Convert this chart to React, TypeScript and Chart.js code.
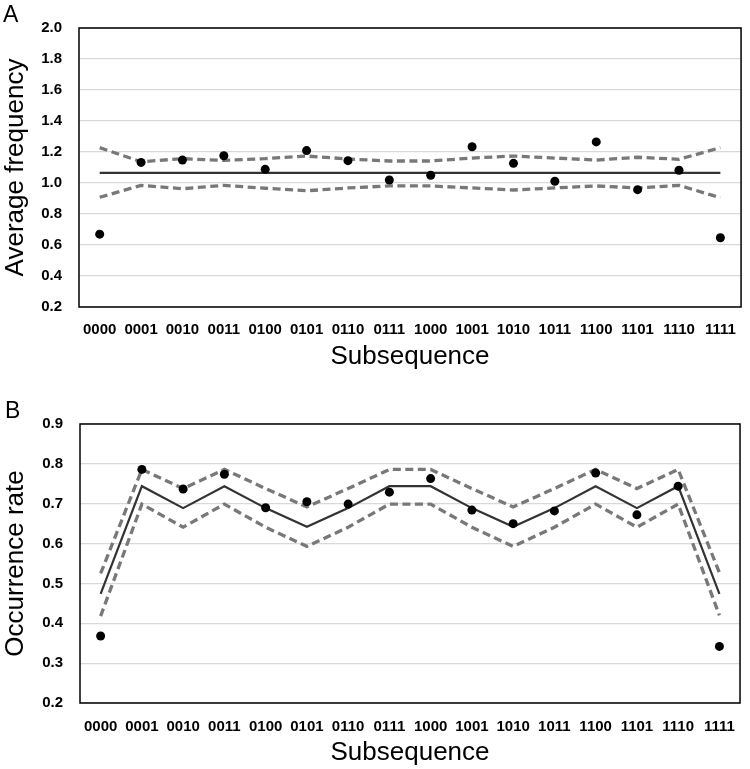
import React, { useEffect, useRef } from "react";
import { Chart, registerables } from "chart.js";

Chart.register(...registerables);

const categories = ["0000","0001","0010","0011","0100","0101","0110","0111","1000","1001","1010","1011","1100","1101","1110","1111"];

// Panel A: average frequency
const freqObserved = [0.67,1.133,1.148,1.176,1.088,1.209,1.144,1.019,1.05,1.234,1.127,1.011,1.265,0.957,1.082,0.647];
const freqMean = [1.065,1.065,1.065,1.065,1.065,1.065,1.065,1.065,1.065,1.065,1.065,1.065,1.065,1.065,1.065,1.065];
const freqUpper = [1.228,1.137,1.157,1.146,1.157,1.174,1.155,1.142,1.142,1.161,1.174,1.161,1.148,1.166,1.153,1.228];
const freqLower = [0.908,0.985,0.963,0.985,0.966,0.95,0.968,0.981,0.981,0.968,0.955,0.968,0.981,0.968,0.985,0.905];
const freqTicks = { min: 0.2, max: 2.0, step: 0.2 };

// Panel B: occurrence rate
const rateObserved = [0.368,0.786,0.737,0.774,0.69,0.705,0.699,0.729,0.763,0.684,0.65,0.682,0.777,0.672,0.744,0.342];
const rateMean = [0.474,0.744,0.689,0.744,0.689,0.642,0.689,0.744,0.744,0.689,0.642,0.689,0.744,0.689,0.744,0.474];
const rateUpper = [0.525,0.786,0.738,0.786,0.738,0.692,0.738,0.786,0.786,0.738,0.692,0.738,0.786,0.738,0.786,0.527];
const rateLower = [0.418,0.699,0.641,0.699,0.641,0.593,0.641,0.699,0.699,0.641,0.593,0.641,0.699,0.641,0.699,0.42];
const rateTicks = { min: 0.2, max: 0.9, step: 0.1 };

const FONT = '"Liberation Sans", Arial, sans-serif';

type PanelCfg = {
  letter: string;
  letterX: number;
  letterY: number;
  yTitle: string;
  observed: number[];
  mean: number[];
  upper: number[];
  lower: number[];
  ticks: { min: number; max: number; step: number };
  height: number;
  padTop: number;
  padRight: number;
  yWidth: number;
  xHeight: number;
  xTickPad: number;
  xTitlePadBottom: number;
  meanColor: string;
};

function buildChart(canvas: HTMLCanvasElement, p: PanelCfg) {
  const dashed = {
    borderColor: "#787878",
    borderWidth: 3.3,
    borderDash: [8, 4.5],
    pointRadius: 0,
    fill: false,
    tension: 0,
    order: 3,
  };
  const framePlugin = {
    id: "frame" + p.letter,
    beforeDatasetsDraw(chart: any) {
      const { ctx, chartArea } = chart;
      ctx.save();
      ctx.strokeStyle = "#000";
      ctx.lineWidth = 1.5;
      ctx.strokeRect(chartArea.left, chartArea.top, chartArea.right - chartArea.left, chartArea.bottom - chartArea.top);
      ctx.restore();
    },
    afterDraw(chart: any) {
      const { ctx } = chart;
      ctx.save();
      ctx.fillStyle = "#000";
      ctx.font = `23px ${FONT}`;
      ctx.textBaseline = "alphabetic";
      ctx.textAlign = "left";
      ctx.fillText(p.letter, p.letterX, p.letterY);
      ctx.restore();
    },
  };
  return new Chart(canvas, {
    type: "line",
    data: {
      labels: categories,
      datasets: [
        {
          label: "Observed",
          data: p.observed,
          showLine: false,
          pointRadius: 4.5,
          pointBackgroundColor: "#000",
          pointBorderColor: "#000",
          pointBorderWidth: 0,
          borderColor: "#000",
          order: 0,
        },
        {
          label: "Mean",
          data: p.mean,
          borderColor: p.meanColor,
          borderWidth: 2.2,
          pointRadius: 0,
          fill: false,
          tension: 0,
          order: 2,
        },
        { label: "Upper", data: p.upper, ...dashed },
        { label: "Lower", data: p.lower, ...dashed },
      ],
    },
    options: {
      responsive: false,
      animation: false,
      events: [],
      layout: { padding: { top: p.padTop, right: p.padRight, left: 0, bottom: 0 } },
      plugins: { legend: { display: false }, tooltip: { enabled: false } },
      scales: {
        x: {
          type: "category",
          offset: true,
          grid: { display: false, drawTicks: false },
          border: { display: false },
          ticks: {
            color: "#000",
            padding: p.xTickPad,
            maxRotation: 0,
            autoSkip: false,
            font: { family: FONT, size: 15, weight: "bold" },
          },
          title: {
            display: true,
            text: "Subsequence",
            color: "#000",
            font: { family: FONT, size: 26 },
            padding: { top: 0, bottom: p.xTitlePadBottom },
          },
          afterFit: (s: any) => {
            s.height = p.xHeight;
          },
        },
        y: {
          min: p.ticks.min,
          max: p.ticks.max,
          grid: { color: "#d9d9d9", lineWidth: 1.2, drawTicks: false },
          border: { display: false },
          ticks: {
            stepSize: p.ticks.step,
            color: "#000",
            padding: 17,
            font: { family: FONT, size: 15, weight: "bold" },
            callback: (v: any) => Number(v).toFixed(1),
          },
          title: {
            display: true,
            text: p.yTitle,
            color: "#000",
            font: { family: FONT, size: 26 },
            padding: { top: 0, bottom: 0 },
          },
          afterFit: (s: any) => {
            s.width = p.yWidth;
          },
        },
      },
    },
    plugins: [framePlugin],
  } as any);
}

const panelA: PanelCfg = {
  letter: "A", letterX: 3, letterY: 22, yTitle: "Average frequency",
  observed: freqObserved, mean: freqMean, upper: freqUpper, lower: freqLower, ticks: freqTicks,
  height: 380, padTop: 28, padRight: 6, yWidth: 79, xHeight: 73, xTickPad: 14, xTitlePadBottom: 8,
  meanColor: "#333333",
};
const panelB: PanelCfg = {
  letter: "B", letterX: 5, letterY: 38, yTitle: "Occurrence rate",
  observed: rateObserved, mean: rateMean, upper: rateUpper, lower: rateLower, ticks: rateTicks,
  height: 389, padTop: 44, padRight: 5, yWidth: 80, xHeight: 66, xTickPad: 15, xTitlePadBottom: 1,
  meanColor: "#333333",
};

function Panel({ cfg }: { cfg: PanelCfg }) {
  const ref = useRef<HTMLCanvasElement | null>(null);
  useEffect(() => {
    if (!ref.current) return;
    const chart = buildChart(ref.current, cfg);
    return () => chart.destroy();
  }, [cfg]);
  return <canvas ref={ref} width={750} height={cfg.height} style={{ display: "block", width: 750, height: cfg.height }} />;
}

export default function App() {
  return (
    <div style={{ position: "absolute", left: 0, top: 0, width: 750, height: 769, background: "#fff" }}>
      <Panel cfg={panelA} />
      <Panel cfg={panelB} />
    </div>
  );
}
